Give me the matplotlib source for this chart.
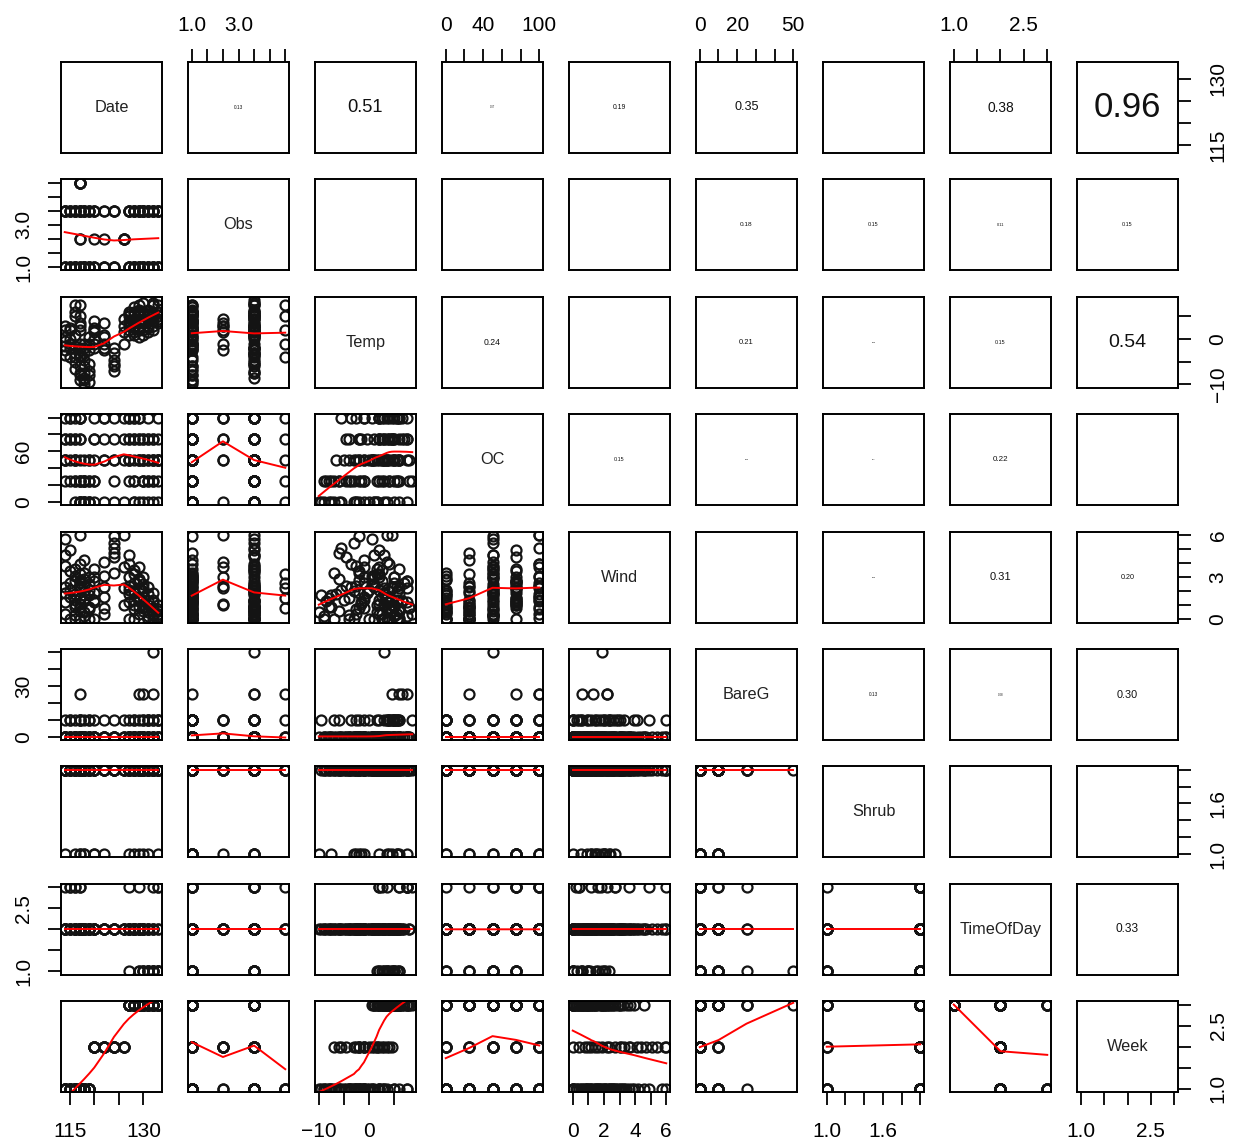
import numpy as np
import matplotlib
matplotlib.use('Agg')
import matplotlib.pyplot as plt

plt.rcParams['font.family'] = ['Liberation Sans', 'DejaVu Sans']

# survey variables (one entry per point count)
nomes = ['Date', 'Obs', 'Temp', 'OC', 'Wind', 'BareG', 'Shrub', 'TimeOfDay', 'Week']

date = [114, 114, 114, 114, 114, 115, 115, 115, 115,
        116, 116, 116, 116, 116, 116,
        117, 117, 117, 117, 117, 117, 117, 117, 117, 117, 117,
        118, 118, 118, 118, 118, 119, 119, 119, 119,
        120, 120, 120, 120, 120, 122, 122, 122, 122,
        124, 124, 124, 124, 126, 126, 126,
        127, 127, 127, 127, 128, 128, 128, 128, 129, 129, 129, 129,
        130, 130, 130, 130, 131, 131, 131, 131, 132, 132, 132, 132,
        133, 133, 133, 133,
        # second round of counts
        114, 114, 115, 115, 116, 116, 116, 117, 117, 117,
        118, 118, 118, 118, 119, 119, 119,
        120, 120, 122, 122, 124, 124, 126,
        127, 127, 128, 128, 129, 129, 130, 130, 131, 131,
        132, 132, 133, 133,
        # third round, late season only
        127, 127, 128, 128, 129, 129, 130, 130,
        131, 131, 132, 132, 133, 133, 128, 130]

obs = [1, 1, 3, 3, 3, 1, 3, 3, 1,
       1, 3, 1, 3, 1, 3,
       4, 4, 4, 4, 4, 2, 2, 1, 3, 1, 3,
       1, 3, 1, 3, 1, 1, 3, 1, 3,
       2, 1, 3, 1, 3, 2, 1, 3, 1,
       1, 3, 1, 3, 2, 2, 2,
       1, 3, 1, 3, 1, 3, 1, 3, 1, 3, 1, 3,
       1, 3, 1, 3, 1, 3, 1, 3, 3, 1, 1, 3,
       1, 3, 1, 3,
       1, 3, 1, 3, 1, 3, 1, 3, 1, 3,
       1, 3, 1, 3, 1, 3, 1,
       1, 3, 1, 3, 1, 3, 2,
       1, 3, 1, 3, 1, 3, 1, 3, 1, 3,
       1, 3, 1, 3,
       1, 3, 1, 3, 1, 3, 1, 3,
       1, 3, 1, 3, 1, 3, 1, 3]

temp = [2.0, -1.5, 3.0, -3.5, 0.5, 2.5, -2.0, 0.0, -4.0,
        7.5, 5.0, -6.5, -3.0, 1.0, -5.0,
        7.5, -4.0, 2.0, 5.0, -1.0, -2.5, 3.0, -9.0, -7.5, -2.0, 3.5,
        -10.0, -8.5, -6.0, -3.0, -1.0, -9.5, -7.0, -2.5, 0.5,
        2.0, 4.0, -2.0, 0.0, 1.5, 3.5, -1.0, 1.0, -2.5,
        -7.0, -4.5, -2.0, -5.5, 4.5, -1.0, 1.5,
        4.0, 2.0, 6.0, 3.0, 5.5, 2.5, 7.0, 1.0, 3.5, 6.5, 0.5, 5.0,
        5.5, 4.5, 2.0, 6.0, 4.5, 3.0, 5.5, 1.5, 3.0, 6.0, 4.0, 7.5,
        6.0, 8.6, 5.0, 3.5,
        -0.5, -2.5, -1.0, 2.0, 6.0, -4.0, -1.5, -6.0, -8.0, -3.5,
        -9.0, -7.5, -4.5, -2.0, -8.0, -5.5, -1.0,
        2.5, -1.0, 0.5, -2.0, -6.0, -3.0, 3.0,
        5.0, 1.0, 4.0, 6.0, 2.5, 7.5, 3.5, 8.0, 6.5, 2.5,
        5.0, 8.0, 7.5, 4.5,
        3.5, 5.5, 1.5, 4.5, 6.0, 2.0, 4.0, 1.0,
        3.0, 5.0, 2.0, 5.5, 4.0, 6.0, 3.0, 5.0]

oc = [100, 75, 50, 25, 50, 100, 75, 50, 25,
      75, 100, 50, 25, 0, 50,
      100, 75, 50, 25, 0, 100, 75, 0, 25, 0, 100,
      0, 25, 0, 0, 25, 0, 25, 0, 50,
      100, 75, 25, 0, 50, 50, 100, 50, 0,
      0, 75, 50, 100, 100, 50, 0,
      100, 75, 50, 25, 100, 50, 75, 0, 75, 100, 50, 0,
      50, 75, 25, 0, 75, 50, 25, 0, 50, 25, 75, 0,
      50, 25, 75, 0,
      75, 50, 100, 75, 75, 50, 25, 25, 0, 100,
      25, 0, 25, 50, 25, 0, 50,
      75, 25, 100, 75, 25, 50, 75,
      75, 50, 25, 100, 50, 75, 50, 25, 75, 25,
      50, 50, 50, 50,
      50, 100, 25, 75, 50, 100, 25, 75,
      100, 50, 75, 25, 50, 100, 0, 50]

wind = [0.4, 1.2, 4.6, 2.3, 5.7, 1.6, 3.4, 2.1, 0.0,
        2.7, 0.9, 1.8, 0.0, 3.1, 1.4,
        2.2, 1.5, 3.2, 2.6, 0.8, 2.4, 1.1, 0.0, 0.9, 2.8, 6.0,
        0.5, 1.3, 2.9, 2.0, 4.2, 1.7, 0.0, 0.7, 2.5,
        3.0, 1.2, 1.9, 0.0, 3.6, 4.1, 1.6, 2.3, 0.4,
        3.3, 4.4, 5.9, 5.1, 6.0, 3.7, 1.0,
        3.9, 2.1, 1.8, 0.0, 1.4, 3.5, 2.6, 0.0, 1.5, 1.3, 2.9, 0.9,
        2.0, 2.2, 1.1, 0.6, 2.3, 1.0, 0.0, 0.5, 1.9, 0.6, 0.0, 1.2,
        0.0, 0.4, 1.0, 0.0,
        1.9, 3.8, 2.6, 4.9, 3.6, 0.3, 1.1, 0.6, 1.5, 3.9,
        0.2, 1.7, 2.4, 3.3, 0.9, 2.1, 3.0,
        2.7, 1.4, 3.1, 0.8, 4.7, 5.4, 2.2,
        3.0, 4.6, 2.0, 0.7, 0.4, 2.7, 1.6, 0.9, 1.3, 0.0,
        0.3, 0.8, 0.2, 0.6,
        1.2, 2.4, 3.2, 1.0, 2.2, 3.7, 0.8, 2.5,
        1.8, 0.2, 1.4, 0.4, 0.7, 0.1, 1.9, 3.0]

bareg = [0, 0, 0, 10, 0, 0, 0, 10, 0,
         0, 10, 0, 0, 0, 0,
         25, 0, 0, 10, 0, 10, 0, 0, 0, 10, 0,
         0, 0, 10, 0, 0, 10, 0, 0, 0,
         0, 10, 0, 0, 0, 10, 0, 0, 0,
         10, 0, 0, 0, 10, 0, 0,
         10, 0, 0, 0, 10, 0, 0, 0, 10, 25, 0, 0,
         10, 25, 0, 10, 10, 0, 10, 10, 50, 25, 10, 0,
         10, 10, 10, 0,
         0, 0, 0, 10, 0, 0, 0, 0, 0, 0,
         0, 0, 0, 0, 0, 0, 10,
         0, 0, 0, 0, 0, 0, 0,
         0, 0, 0, 0, 0, 0, 0, 0, 0, 0,
         10, 0, 0, 0,
         0, 0, 0, 0, 0, 0, 0, 0,
         0, 0, 0, 0, 0, 0, 10, 0]

shrub = [2, 1, 2, 2, 2, 2, 2, 2, 2,
         1, 2, 2, 2, 2, 2,
         2, 2, 2, 2, 2, 1, 2, 2, 1, 2, 2,
         1, 2, 2, 1, 2, 2, 2, 2, 2,
         2, 1, 1, 2, 2, 2, 1, 2, 2,
         2, 2, 2, 2, 2, 2, 2,
         2, 1, 2, 2, 1, 2, 2, 2, 1, 2, 2, 2,
         1, 2, 2, 2, 1, 2, 2, 2, 2, 2, 2, 2,
         1, 2, 2, 2,
         2, 2, 2, 2, 2, 2, 2, 2, 2, 2,
         2, 2, 2, 2, 2, 2, 2,
         2, 2, 2, 2, 2, 2, 2,
         2, 2, 2, 2, 2, 2, 2, 2, 2, 2,
         2, 2, 2, 2,
         2, 2, 2, 2, 2, 2, 2, 2,
         2, 2, 2, 2, 2, 2, 2, 2]

time_of_day = [3, 2, 2, 2, 2, 3, 2, 2, 2,
               3, 2, 2, 2, 2, 2,
               3, 2, 2, 2, 2, 2, 2, 2, 2, 2, 3,
               2, 2, 2, 2, 2, 2, 2, 2, 2,
               2, 2, 2, 2, 2, 2, 2, 2, 2,
               2, 2, 2, 2, 2, 2, 2,
               2, 1, 3, 2, 2, 2, 2, 2, 1, 2, 2, 1,
               1, 2, 1, 2, 1, 1, 2, 1, 1, 1, 1, 3,
               1, 3, 1, 1,
               2, 2, 2, 3, 3, 2, 2, 2, 2, 2,
               2, 2, 2, 2, 2, 2, 2,
               2, 2, 2, 2, 2, 2, 2,
               2, 2, 2, 2, 2, 3, 1, 2, 2, 1,
               1, 2, 3, 1,
               2, 2, 2, 2, 2, 2, 2, 2,
               2, 2, 2, 2, 2, 2, 2, 2]

week = ([1] * 35 + [2] * 16 + [3] * 28
        + [1] * 17 + [2] * 7 + [3] * 14
        + [3] * 16)

# absolute correlations shown in the upper panels
cor_abs = [
    [None, 0.13, 0.51, 0.07, 0.19, 0.35, 0.01, 0.38, 0.96],
    [None, None, 0.01, 0.01, 0.01, 0.18, 0.15, 0.11, 0.15],
    [None, None, None, 0.24, 0.01, 0.21, 0.06, 0.15, 0.54],
    [None, None, None, None, 0.15, 0.06, 0.05, 0.22, 0.01],
    [None, None, None, None, None, 0.01, 0.06, 0.31, 0.20],
    [None, None, None, None, None, None, 0.13, 0.08, 0.30],
    [None, None, None, None, None, None, None, 0.01, 0.01],
    [None, None, None, None, None, None, None, None, 0.33],
    [None] * 9,
]

# axis ticks and the labels that get printed on each side
ticks = [
    [115, 120, 125, 130],
    [1.0, 1.5, 2.0, 2.5, 3.0, 3.5, 4.0],
    [-10, -5, 0, 5],
    [0, 20, 40, 60, 80, 100],
    [0, 1, 2, 3, 4, 5, 6],
    [0, 10, 20, 30, 40, 50],
    [1.0, 1.2, 1.4, 1.6, 1.8, 2.0],
    [1.0, 1.5, 2.0, 2.5, 3.0],
    [1.0, 1.5, 2.0, 2.5, 3.0],
]
labels_x = [
    ['115', '', '', '130'],
    ['1.0', '', '', '3.0', '', '', ''],
    ['\u221210', '', '0', ''],
    ['0', '', '40', '', '', '100'],
    ['0', '', '2', '', '4', '', '6'],
    ['0', '', '20', '', '', '50'],
    ['1.0', '', '', '1.6', '', ''],
    ['1.0', '', '', '2.5', ''],
    ['1.0', '', '', '2.5', ''],
]
labels_y = [
    ['115', '', '', '130'],
    ['1.0', '', '', '3.0', '', '', ''],
    ['\u221210', '', '0', ''],
    ['0', '', '', '60', '', ''],
    ['0', '', '', '3', '', '', '6'],
    ['0', '', '', '30', '', ''],
    ['1.0', '', '', '1.6', '', ''],
    ['1.0', '', '', '2.5', ''],
    ['1.0', '', '', '2.5', ''],
]


def lowess(x, y, f=2/3, iters=3):
    # locally weighted regression, same recipe as R's lowess()
    x = np.asarray(x, float)
    y = np.asarray(y, float)
    o = np.argsort(x, kind='mergesort')
    x, y = x[o], y[o]
    n = len(x)
    ns = max(min(int(f * n + 1e-7), n), 2)
    rng = x[-1] - x[0]
    rw = np.ones(n)
    ys = np.zeros(n)
    for it in range(iters + 1):
        for i in range(n):
            if i > 0 and x[i] == x[i - 1]:
                ys[i] = ys[i - 1]
                continue
            d = np.abs(x - x[i])
            h = np.sort(d)[ns - 1]
            if h > 0:
                r = d / h
                w = np.where(r <= 0.999, np.where(r > 0.001, (1 - r ** 3) ** 3, 1.0), 0.0)
            else:
                w = (d == 0).astype(float)
            w = w * rw
            if w.sum() <= 0:
                ys[i] = y[i]
                continue
            w = w / w.sum()
            if h > 0:
                a = np.sum(w * x)
                c = np.sum(w * (x - a) ** 2)
                if np.sqrt(c) > 0.001 * rng:
                    b = (x[i] - a) / c
                    w = w * (b * (x - a) + 1)
            ys[i] = np.sum(w * y)
        if it == iters:
            break
        res = y - ys
        sc = np.mean(np.abs(res))
        cmad = 6 * np.median(np.abs(res))
        if cmad <= 1e-7 * sc:
            break
        r = np.abs(res) / cmad
        rw = np.where(r <= 0.001, 1.0, np.where(r <= 0.999, (1 - r ** 2) ** 2, 0.0))
    return x, ys


dados = [np.array(v, float) for v in
         [date, obs, temp, oc, wind, bareg, shrub, time_of_day, week]]

limites = []
for v in dados:
    r = v.max() - v.min()
    limites.append((v.min() - 0.04 * r, v.max() + 0.04 * r))

W, H = 1241, 1147
fig = plt.figure(figsize=(W / 100, H / 100), dpi=100)
n = len(nomes)
tick_style = dict(direction='out', length=9.5, width=1.3, labelsize=15)

for i in range(n):
    for j in range(n):
        left = (61 + 127 * j) / W
        bottom = 1 - (62 + 117.4 * i + 91) / H
        ax = fig.add_axes([left, bottom, 101 / W, 91 / H])
        for s in ax.spines.values():
            s.set_linewidth(1.4)
        ax.set_xticks([])
        ax.set_yticks([])

        if i == j:
            ax.text(0.5, 0.5, nomes[i], transform=ax.transAxes,
                    ha='center', va='center', fontsize=11.7, color='#222222')
        elif i > j:
            ax.plot(dados[j], dados[i], 'o', mfc='none', mec='#141414',
                    ms=7.2, mew=1.6)
            lx, ly = lowess(dados[j], dados[i])
            ax.plot(lx, ly, color='red', lw=1.4)
        else:
            r = cor_abs[i][j]
            if r is not None and r >= 0.02:
                ax.text(0.5, 0.5, f'{r:.2f}', transform=ax.transAxes,
                        ha='center', va='center', fontsize=26 * r, color='#111111')

        # outer axes alternate like R's pairs()
        if i == 0 and j % 2 == 1:
            ax.xaxis.set_ticks_position('top')
            ax.set_xticks(ticks[j])
            ax.set_xticklabels(labels_x[j])
            ax.tick_params(axis='x', pad=10, **tick_style)
        if i == n - 1 and j % 2 == 0:
            ax.set_xticks(ticks[j])
            ax.set_xticklabels(labels_x[j])
            ax.tick_params(axis='x', pad=12, **tick_style)
        if j == 0 and i % 2 == 1:
            ax.set_yticks(ticks[i])
            ax.set_yticklabels(labels_y[i], rotation=90, va='center')
            ax.tick_params(axis='y', pad=10.5, **tick_style)
        if j == n - 1 and i % 2 == 0:
            ax.yaxis.set_ticks_position('right')
            ax.set_yticks(ticks[i])
            ax.set_yticklabels(labels_y[i], rotation=90, va='center')
            ax.tick_params(axis='y', pad=12.5, **tick_style)

        ax.set_xlim(limites[j])
        ax.set_ylim(limites[i])

fig.savefig('out.png', dpi=100)
